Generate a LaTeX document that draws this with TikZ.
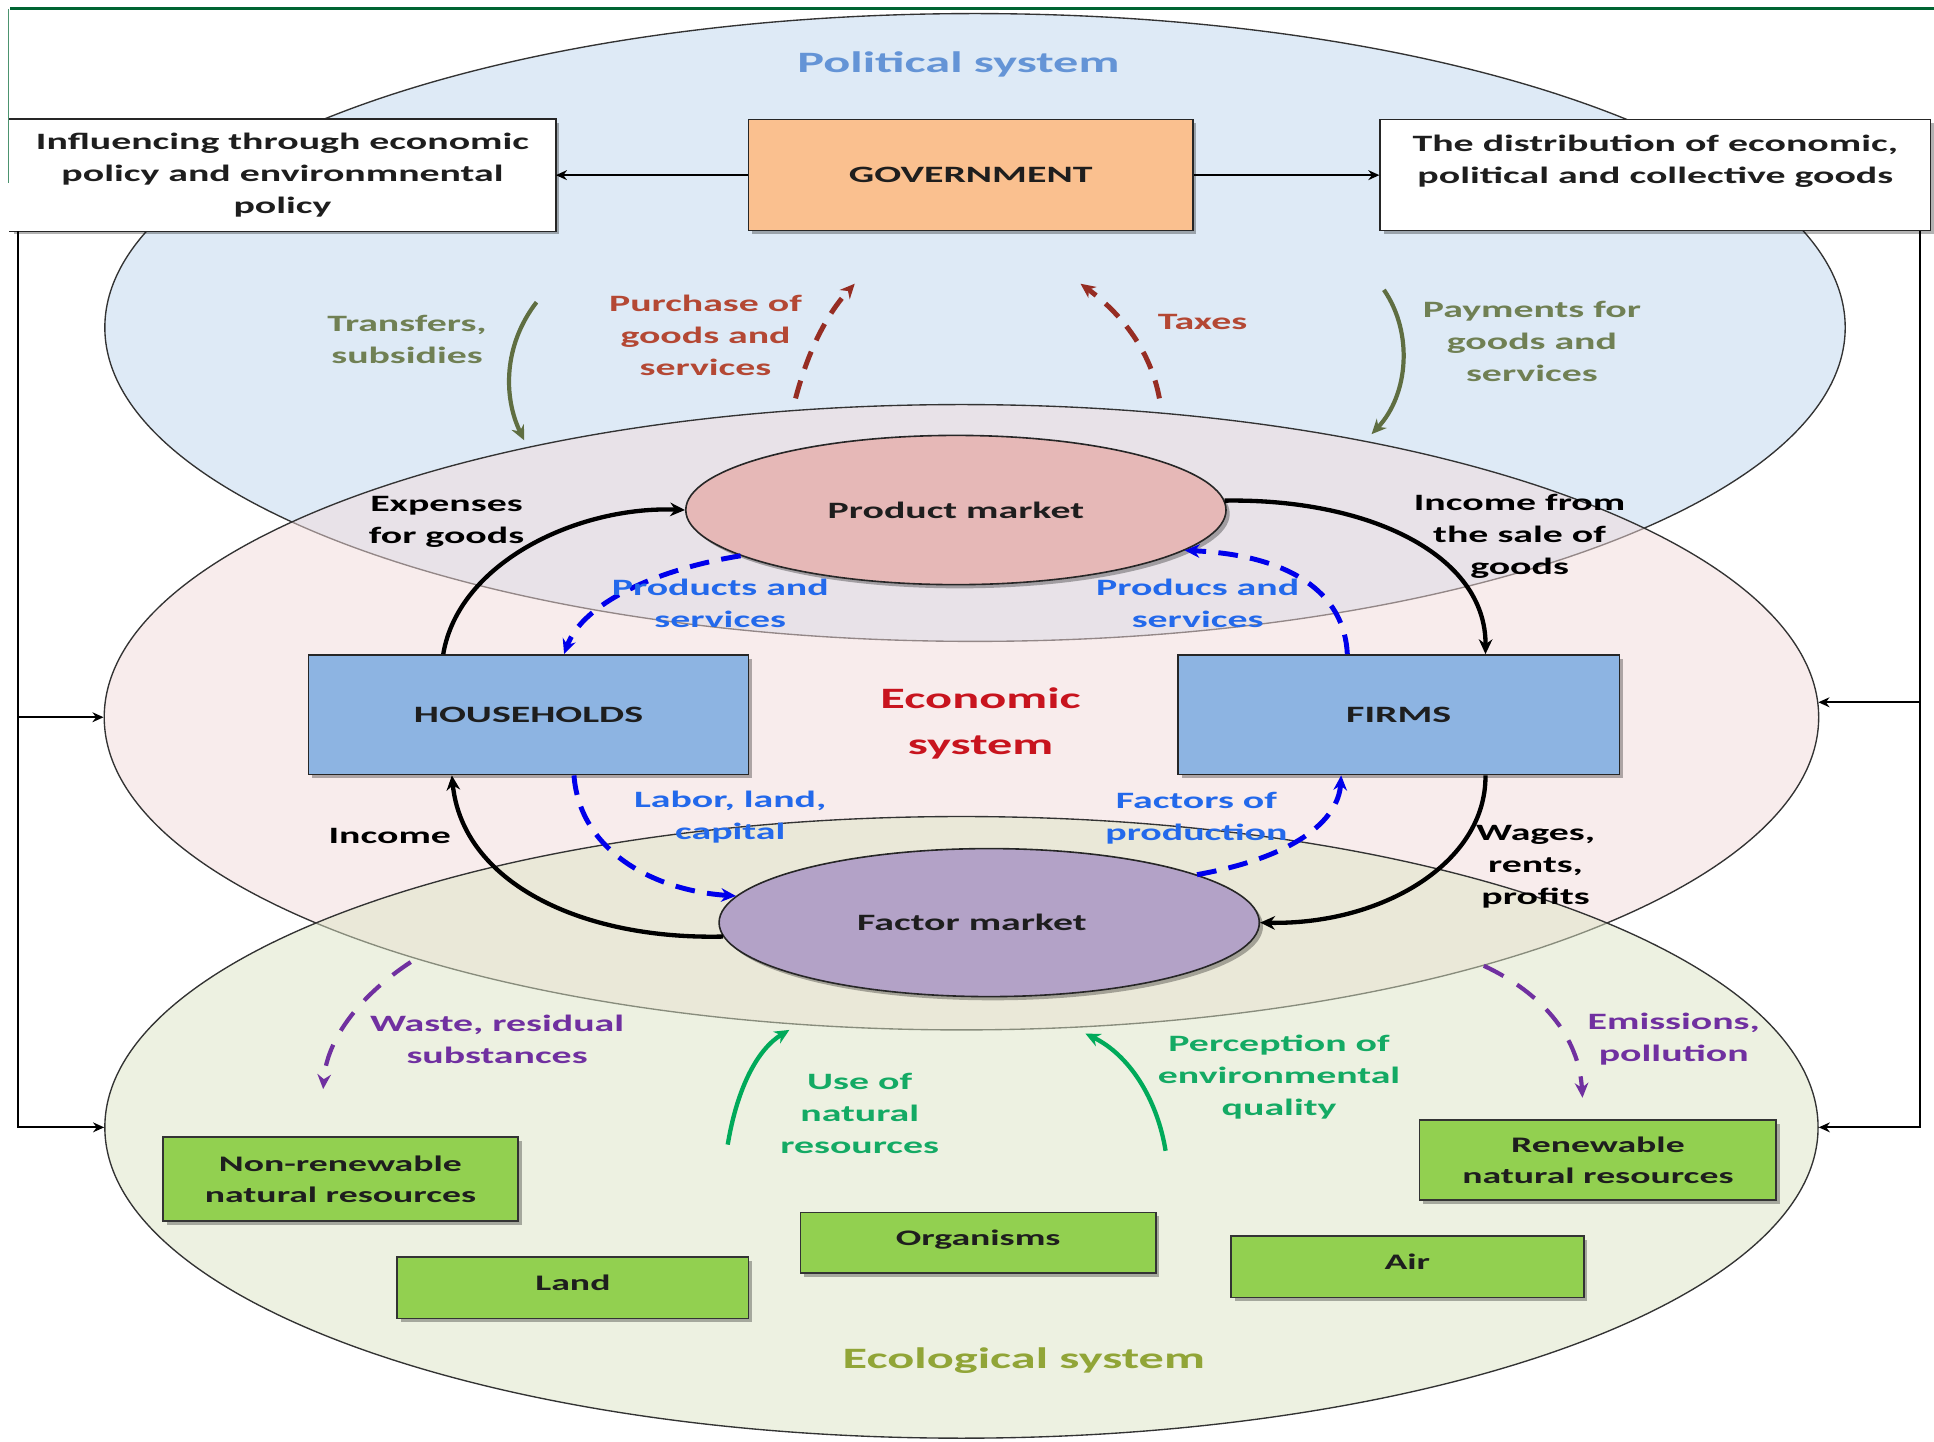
\documentclass[tikz,border=0pt]{standalone}
\usepackage{fontspec}
\setmainfont{Carlito}[FakeStretch=1.7]
\usetikzlibrary{shapes.geometric,arrows.meta,shadows,calc}

\definecolor{polfill}{RGB}{222,234,246}
\definecolor{econfill}{RGB}{243,219,219}
\definecolor{ecofill}{RGB}{221,229,197}
\definecolor{govfill}{RGB}{250,192,143}
\definecolor{agentfill}{RGB}{141,180,226}
\definecolor{pmfill}{RGB}{230,184,183}
\definecolor{fmfill}{RGB}{179,162,199}
\definecolor{resfill}{RGB}{146,208,80}
\definecolor{poltext}{RGB}{100,148,214}
\definecolor{econtext}{RGB}{200,20,30}
\definecolor{ecotext}{RGB}{145,165,55}
\definecolor{olivetext}{RGB}{112,128,84}
\definecolor{olivearrow}{RGB}{95,110,65}
\definecolor{redtext}{RGB}{180,72,52}
\definecolor{redarrow}{RGB}{150,45,35}
\definecolor{bluetext}{RGB}{35,105,235}
\definecolor{bluearrow}{RGB}{0,0,235}
\definecolor{purpletext}{RGB}{112,48,160}
\definecolor{greentext}{RGB}{20,170,100}
\definecolor{greenarrow}{RGB}{0,170,90}
\definecolor{framegreen}{RGB}{0,100,50}
\definecolor{inktext}{RGB}{30,30,30}

\begin{document}
\begin{tikzpicture}[x=1pt,y=-1pt,
  sphere/.style={ellipse, inner sep=0, draw=black!80, line width=1.1pt},
  boxshadow/.style={drop shadow={shadow xshift=3pt,shadow yshift=-3pt,opacity=0.3,fill=black}},
  agent/.style={rectangle, draw=black!85, line width=1.3pt, inner sep=0, boxshadow,
    font=\fontsize{19}{26}\selectfont\bfseries, text=inktext, align=center},
  market/.style={ellipse, draw=black!85, line width=1.3pt, inner sep=0, boxshadow,
    font=\fontsize{19}{26}\selectfont\bfseries, text=inktext},
  resbox/.style={rectangle, draw=black!80, line width=1.3pt, fill=resfill, inner sep=0, boxshadow,
    font=\fontsize{18}{25}\selectfont\bfseries, text=inktext, align=center},
  oneline/.style={text height=13pt, text depth=8pt},
  lbl/.style={font=\fontsize{19}{26}\selectfont\bfseries, align=center, inner sep=0},
  sysname/.style={font=\fontsize{24}{37}\selectfont\bfseries, align=center, inner sep=0},
  flowline/.style={line width=3.5pt, -{Stealth[length=12pt,width=11pt]}},
  dashflow/.style={line width=4pt, dash pattern=on 16pt off 10pt, -{Stealth[length=12pt,width=11pt]}},
  conn/.style={line width=1.8pt, -{Stealth[length=9pt,width=8pt]}},
]
\useasboundingbox (0,0) rectangle (1568,1169);
\fill[white] (0,0) rectangle (1568,1169);

% frame rule at the top
\draw[framegreen, line width=3pt] (8,7) -- (1568,7);
\draw[framegreen!70, line width=0.8pt] (7,7) -- (7,148);

% the three overlapping systems
\node[sphere, fill=polfill, minimum width=1411pt, minimum height=509pt] (pol) at (790.5,265.5) {};
\node[sphere, fill=econfill, fill opacity=0.5, minimum width=1390pt, minimum height=507pt] (econ) at (779.5,581.5) {};
\node[sphere, fill=ecofill, fill opacity=0.5, minimum width=1389pt, minimum height=504pt] (ecol) at (779.5,914) {};

% system names
\node[sysname, text=poltext] (polname) at (777,52) {Political system};
\node[sysname, text=econtext] (econname) at (795,586.5) {Economic\\system};
\node[sysname, text=ecotext] (econame) at (830,1103) {Ecological system};

% political level
\node[agent, fill=white, draw=none, minimum width=442pt, minimum height=90pt] (inf) at (229,142)
  {Influencing through economic\\policy and environmnental\\policy};
\draw[black!85, line width=1.3pt] (inf.north west) -- (inf.north east) -- (inf.south east) -- (inf.south west);
\node[agent, fill=govfill, minimum width=360pt, minimum height=90pt] (gov) at (787,142) {GOVERNMENT};
\node[agent, fill=white, minimum width=446pt, minimum height=90pt] (dist) at (1342,142)
  {The distribution of economic,\\political and collective goods\\\mbox{}};

\draw[conn] (gov.west) -- (inf.east);
\draw[conn] (gov.east) -- (dist.west);

% feedback lines along both sides
\coordinate (lft) at ($(inf.south west)+(7,0)$);
\coordinate (rgt) at ($(dist.south east)+(-9,0)$);
\draw[conn] (lft) |- (econ.west);
\draw[conn] (lft) |- (ecol.180.5);
\draw[conn] (rgt) |- (econ.1.5);
\draw[conn] (rgt) |- (ecol.-0.5);

% economic level
\node[market, fill=pmfill, minimum width=438pt, minimum height=121pt] (pm) at (775,413.5) {Product market};
\node[market, fill=fmfill, minimum width=438pt, minimum height=120pt] (fm) at (802,748) {Factor market\hspace*{28pt}};
\node[agent, fill=agentfill, minimum width=357pt, minimum height=97pt] (hh) at (428.5,579.5) {HOUSEHOLDS};
\node[agent, fill=agentfill, minimum width=358pt, minimum height=97pt] (fi) at (1134,579.5) {FIRMS};

% money flows
\draw[flowline] ($(hh.north west)+(110,0)$) .. controls (372,455) and (470,410) .. (pm.west);
\draw[flowline] (pm.2) .. controls (1110,404) and (1205,450) .. ($(fi.north west)+(250,0)$);
\draw[flowline] (fm.183) .. controls (470,762) and (375,715) .. ($(hh.south west)+(117,0)$);
\draw[flowline] ($(fi.south west)+(250,0)$) .. controls (1205,700) and (1120,750) .. (fm.east);

% real flows
\draw[dashflow, bluearrow] (pm.192) .. controls (530,462) and (472,490) .. ($(hh.north west)+(208,0)$);
\draw[dashflow, bluearrow] ($(fi.north west)+(138,0)$) .. controls (1090,480) and (1045,450) .. (pm.-10);
\draw[dashflow, bluearrow] ($(hh.south west)+(216,0)$) .. controls (470,690) and (530,722) .. (fm.174);
\draw[dashflow, bluearrow] (fm.13) .. controls (1050,695) and (1085,665) .. ($(fi.south west)+(133,0)$);

\node[lbl] (lexp) at (362,423) {Expenses\\for goods};
\node[lbl] (linc) at (1232,435) {Income from\\the sale of\\goods};
\node[lbl] (lincome) at (316,678) {Income};
\node[lbl] (lwages) at (1245,703) {Wages,\\rents,\\profits};
\node[lbl, text=bluetext] (lps1) at (584,489) {Products and\\services};
\node[lbl, text=bluetext] (lps2) at (971,489) {Producs and\\services};
\node[lbl, text=bluetext] (llab) at (592,662.5) {Labor, land,\\capital};
\node[lbl, text=bluetext] (lfac) at (970,663.5) {Factors of\\production};

% exchanges with the government
\coordinate (tr1) at (435,245);  \coordinate (tr2) at (425,357);
\coordinate (pu1) at (645,323);  \coordinate (pu2) at (693,230);
\coordinate (tx1) at (940,323);  \coordinate (tx2) at (876,230);
\coordinate (pa1) at (1122,235); \coordinate (pa2) at (1112,352);
\draw[flowline, olivearrow, line width=3.4pt] (tr1) .. controls (408,280) and (408,322) .. (tr2);
\draw[flowline, olivearrow, line width=3.4pt] (pa1) .. controls (1146,270) and (1142,320) .. (pa2);
\draw[dashflow, redarrow, dash pattern=on 15pt off 10pt] (pu1) .. controls (655,285) and (670,255) .. (pu2);
\draw[dashflow, redarrow, dash pattern=on 15pt off 10pt] (tx1) .. controls (933,285) and (910,255) .. (tx2);

\node[lbl, text=olivetext] (ltr) at (330,275) {Transfers,\\subsidies};
\node[lbl, text=redtext] (lpu) at (572,272) {Purchase of\\goods and\\services};
\node[lbl, text=redtext] (ltx) at (975,261) {Taxes};
\node[lbl, text=olivetext] (lpa) at (1242,277) {Payments for\\goods and\\services};

% ecological level
\node[resbox, minimum width=288pt, minimum height=68pt] (nonren) at (276,956) {Non-renewable\\natural resources};
\node[resbox, oneline, minimum width=285pt, minimum height=50pt] (land) at (464.5,1044) {Land};
\node[resbox, oneline, minimum width=288pt, minimum height=49pt] (org) at (793,1007.5) {Organisms};
\node[resbox, oneline, minimum width=286pt, minimum height=50pt] (air) at (1141,1027) {Air};
\node[resbox, minimum width=289pt, minimum height=65pt] (ren) at (1295.5,940.5) {Renewable\\natural resources};

\coordinate (wa1) at (333,780);  \coordinate (wa2) at (262,883);
\coordinate (em1) at (1203,783); \coordinate (em2) at (1283,890);
\coordinate (us1) at (590,928);  \coordinate (us2) at (640,835);
\coordinate (pe1) at (945,933);  \coordinate (pe2) at (880,838);
\draw[dashflow, purpletext, line width=3.4pt, dash pattern=on 18pt off 13pt] (wa1) .. controls (295,805) and (265,840) .. (wa2);
\draw[dashflow, purpletext, line width=3.4pt, dash pattern=on 18pt off 13pt] (em1) .. controls (1250,805) and (1280,840) .. (em2);
\draw[flowline, greenarrow] (us1) .. controls (598,880) and (615,850) .. (us2);
\draw[flowline, greenarrow] (pe1) .. controls (938,890) and (915,855) .. (pe2);

\node[lbl, text=purpletext] (lwa) at (403,842.5) {Waste, residual\\substances};
\node[lbl, text=purpletext] (lem) at (1357,842.5) {Emissions,\\pollution};
\node[lbl, text=greentext] (lus) at (697,902.5) {Use of\\natural\\resources};
\node[lbl, text=greentext] (lpe) at (1037,873.5) {Perception of\\environmental\\quality};
\end{tikzpicture}
\end{document}
